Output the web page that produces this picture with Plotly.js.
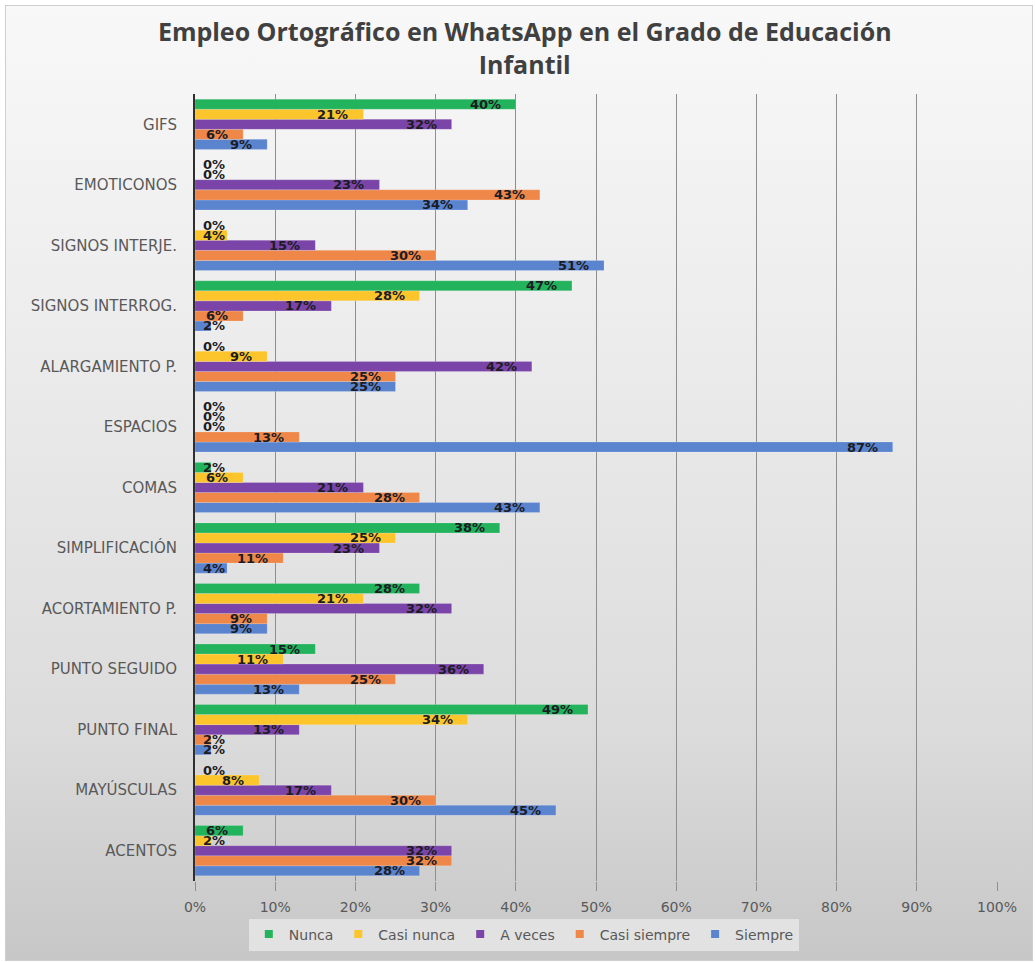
<!DOCTYPE html>
<html>
<head>
<meta charset="utf-8">
<script src="https://cdn.plot.ly/plotly-3.0.1.min.js"></script>
<style>
  html, body { margin: 0; padding: 0; background: #ffffff; }
  #frame {
    position: absolute; left: 5px; top: 5px; width: 1026px; height: 954px;
    border: 1px solid #cfcfcf;
    background: linear-gradient(to bottom, #f8f8f8 0%, #ececec 35%, #dcdcdc 75%, #c7c7c7 100%);
  }
  #chart { position: absolute; left: 0; top: 0; width: 1035px; height: 962px; }
</style>
</head>
<body>
<div id="frame"></div>
<div id="chart"></div>
<script>
// Categories, bottom to top as drawn
const categories = ["ACENTOS", "MAYÚSCULAS", "PUNTO FINAL", "PUNTO SEGUIDO", "ACORTAMIENTO P.",
  "SIMPLIFICACIÓN", "COMAS", "ESPACIOS", "ALARGAMIENTO P.", "SIGNOS INTERROG.",
  "SIGNOS INTERJE.", "EMOTICONOS", "GIFS"];

// Percentages per series, same order as categories
const nunca       = [6, 0, 49, 15, 28, 38, 2, 0, 0, 47, 0, 0, 40];
const casiNunca   = [2, 8, 34, 11, 21, 25, 6, 0, 9, 28, 4, 0, 21];
const aVeces      = [32, 17, 13, 36, 32, 23, 21, 0, 42, 17, 15, 23, 32];
const casiSiempre = [32, 30, 2, 25, 9, 11, 28, 13, 25, 6, 30, 43, 6];
const siempre     = [28, 45, 2, 13, 9, 4, 43, 87, 25, 2, 51, 34, 9];

const seriesNames = ["Siempre", "Casi siempre", "A veces", "Casi nunca", "Nunca"];
const seriesData  = [siempre, casiSiempre, aVeces, casiNunca, nunca];
const seriesColors = ["#5b84cf", "#ee8748", "#7b44a9", "#fcc52b", "#22b35c"];

const xTicks = [0, 10, 20, 30, 40, 50, 60, 70, 80, 90, 100];

const FONT = "'DejaVu Sans', Verdana, sans-serif";
const TITLE_FONT = "'Open Sans', 'DejaVu Sans', sans-serif";
const bargap = 0.17;
const nSeries = seriesData.length;
const barW = (1 - bargap) / nSeries;

const traces = seriesData.map((vals, k) => ({
  type: "bar",
  orientation: "h",
  name: seriesNames[k],
  y: categories,
  x: vals,
  showlegend: false,
  marker: { color: seriesColors[k], line: { color: "rgba(255,255,255,0.35)", width: 0.5 } },
  hovertemplate: "%{y}: %{x}%<extra>" + seriesNames[k] + "</extra>"
}));

// Legend entries with small square swatches
seriesData.forEach((vals, k) => {
  traces.push({
    type: "scatter", mode: "markers",
    name: seriesNames[k],
    x: [null], y: [null],
    marker: { symbol: "square", size: 8, color: seriesColors[k] },
    showlegend: true, hoverinfo: "skip"
  });
});

// Data labels: inside end of each bar, clamped near axis for short bars
const annotations = [];
seriesData.forEach((vals, k) => {
  vals.forEach((v, i) => {
    annotations.push({
      xref: "x", yref: "y",
      x: Math.max(v, 5.6),
      y: i + (k - (nSeries - 1) / 2) * barW,
      text: v + "%",
      showarrow: false,
      xanchor: "right",
      yanchor: "middle",
      xshift: -13,
      font: { family: FONT, size: 13, color: "#1c1c24", weight: "bold" }
    });
  });
});

const layout = {
  width: 1035, height: 962,
  paper_bgcolor: "rgba(0,0,0,0)",
  plot_bgcolor: "rgba(0,0,0,0)",
  margin: { l: 195, r: 38, t: 94, b: 74 },
  barmode: "group",
  bargap: bargap,
  bargroupgap: 0,
  font: { family: FONT, color: "#595959" },
  title: {
    text: "Empleo Ortográfico en WhatsApp en el Grado de Educación<br>Infantil",
    font: { family: TITLE_FONT, size: 25, color: "#404040", weight: "bold" },
    x: 0.507, xanchor: "center",
    y: 0.957, yanchor: "middle", yref: "container"
  },
  xaxis: {
    range: [0, 100],
    tickvals: xTicks,
    ticktext: xTicks.map(t => t + "%"),
    showgrid: true, gridcolor: "#8e8e8e", gridwidth: 1,
    ticks: "outside", ticklen: 9, tickcolor: "#8e8e8e", tickwidth: 1,
    ticklabelstandoff: 4,
    zeroline: false, showline: false,
    tickfont: { family: FONT, size: 14, color: "#595959" },
    fixedrange: true
  },
  yaxis: {
    type: "category",
    categoryorder: "array", categoryarray: categories,
    showline: true, linecolor: "#2f2f2f", linewidth: 2,
    showgrid: false, zeroline: false,
    ticks: "", ticklabelstandoff: 13,
    tickfont: { family: FONT, size: 15, color: "#595959" },
    range: [-0.5, categories.length - 0.5],
    fixedrange: true
  },
  legend: {
    orientation: "h",
    traceorder: "reversed",
    x: 0.41, xanchor: "center",
    y: -0.068, yanchor: "middle",
    bgcolor: "rgba(228,228,228,0.9)",
    itemwidth: 30,
    font: { family: FONT, size: 14, color: "#595959" }
  },
  annotations: annotations
};

Plotly.newPlot("chart", traces, layout, { displayModeBar: false, responsive: false });
</script>
</body>
</html>
